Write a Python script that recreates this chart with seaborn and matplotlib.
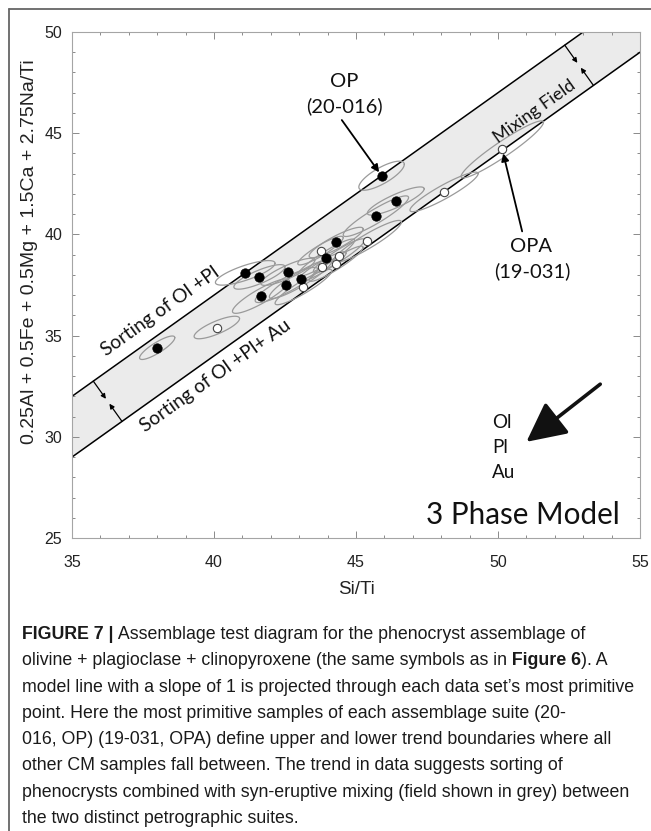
import numpy as np
import matplotlib
matplotlib.use("Agg")
import matplotlib.pyplot as plt
import seaborn as sns
from matplotlib import font_manager as fm
from matplotlib.lines import Line2D
from matplotlib.ticker import MultipleLocator

# ---------------- data ----------------
# OP-type samples (filled symbols)
op_x = [38.0, 41.1, 41.6, 41.65, 42.6, 42.55, 43.05, 43.95, 44.3, 45.7, 46.4, 45.9]
op_y = [34.4, 38.1, 37.9, 36.95, 38.15, 37.5, 37.8, 38.85, 39.6, 40.9, 41.65, 42.9]
op_ell_a = [0.62, 1.05, 0.9, 1.0, 0.95, 1.1, 1.1, 1.0, 0.95, 1.15, 1.0, 0.8]
op_ell_b = [0.30, 0.38, 0.35, 0.40, 0.35, 0.40, 0.40, 0.35, 0.35, 0.40, 0.35, 0.45]
op_ell_r = [0.80, 0.45, 0.55, 0.75, 0.60, 0.70, 0.80, 0.85, 0.70, 0.80, 0.60, 0.70]

# OPA-type samples (open symbols)
opa_x = [40.1, 43.15, 43.75, 43.8, 44.3, 44.4, 45.4, 48.1, 50.15]
opa_y = [35.4, 37.4, 39.2, 38.4, 38.55, 38.95, 39.65, 42.1, 44.2]
opa_ell_a = [0.8, 1.0, 0.8, 0.85, 0.95, 0.9, 1.2, 1.2, 1.45]
opa_ell_b = [0.34, 0.35, 0.30, 0.30, 0.32, 0.32, 0.40, 0.38, 0.45]
opa_ell_r = [0.55, 0.80, 0.80, 0.80, 0.85, 0.85, 0.80, 0.75, 0.92]

# model lines (slope 1) through the most primitive samples
model_slope = 1.0
upper_intercept = -3.0   # through OP (20-016)
lower_intercept = -6.0   # through OPA (19-031)

x_ticks = [35, 40, 45, 50, 55]
y_ticks = [25, 30, 35, 40, 45, 50]

x_label = "Si/Ti"
y_label = "0.25Al + 0.5Fe + 0.5Mg + 1.5Ca + 2.75Na/Ti"

caption_lines = [
    [("FIGURE 7 |", True), (" Assemblage test diagram for the phenocryst assemblage of", False)],
    [("olivine + plagioclase + clinopyroxene (the same symbols as in", False), (" Figure 6", True), ("). A", False)],
    [("model line with a slope of 1 is projected through each data set\u2019s most primitive", False)],
    [("point. Here the most primitive samples of each assemblage suite (20-", False)],
    [("016, OP) (19-031, OPA) define upper and lower trend boundaries where all", False)],
    [("other CM samples fall between. The trend in data suggests sorting of", False)],
    [("phenocrysts combined with syn-eruptive mixing (field shown in grey) between", False)],
    [("the two distinct petrographic suites.", False)],
]

# ---------------- style ----------------
sns.set_theme(style="white")
plt.rcParams['font.family'] = ['Liberation Sans', 'DejaVu Sans']
names = {f.name for f in fm.fontManager.ttflist}
ann_font = 'Lato' if 'Lato' in names else 'DejaVu Sans'
cap_font = 'Liberation Sans Narrow' if 'Liberation Sans Narrow' in names else 'Liberation Sans'

W, H = 651, 831
fig = plt.figure(figsize=(W / 100, H / 100), dpi=100)
fig.patch.set_facecolor('white')
L, R, T, B = 72, 640, 32, 538
ax = fig.add_axes([L / W, 1 - B / H, (R - L) / W, (B - T) / H])
ax.set_xlim(35, 55)
ax.set_ylim(25, 50)
ax.set_facecolor('white')
renderer = fig.canvas.get_renderer()

# band and model lines
xs = np.array([35.0, 55.0])
up = model_slope * xs + upper_intercept
lo = model_slope * xs + lower_intercept
ax.fill_between(xs, lo, up, color='#ebebeb', lw=0, zorder=0)
sns.lineplot(x=xs, y=up, color='black', lw=1.1, ax=ax, zorder=1)
sns.lineplot(x=xs, y=lo, color='black', lw=1.1, ax=ax, zorder=1)

# error ellipses
t = np.linspace(0, 2 * np.pi, 120)
for cx, cy, a, b, r in list(zip(op_x, op_y, op_ell_a, op_ell_b, op_ell_r)) + \
        list(zip(opa_x, opa_y, opa_ell_a, opa_ell_b, opa_ell_r)):
    ax.plot(cx + a * np.cos(t), cy + r * a * np.cos(t) + b * np.sin(t),
            color='#9a9a9a', lw=0.9, zorder=2)

# samples
sns.scatterplot(x=opa_x, y=opa_y, s=36, color='white', edgecolor='#444444',
                linewidth=0.8, ax=ax, zorder=3)
sns.scatterplot(x=op_x, y=op_y, s=46, color='black', edgecolor='black',
                linewidth=0.5, ax=ax, zorder=4)

# axes styling
ax.set_xticks(x_ticks)
ax.set_yticks(y_ticks)
ax.xaxis.set_minor_locator(MultipleLocator(1))
ax.yaxis.set_minor_locator(MultipleLocator(1))
ax.tick_params(which='both', direction='in', top=True, right=True, bottom=True,
               left=True, color='#8a8a8a', width=0.7)
ax.tick_params(which='major', length=5)
ax.tick_params(which='minor', length=2.5)
ax.tick_params(axis='x', which='major', pad=12, labelsize=11.5, labelcolor='#222222')
ax.tick_params(axis='y', which='major', pad=7, labelsize=11.5, labelcolor='#222222')
for s in ax.spines.values():
    s.set_color('#a5a5a5')
    s.set_linewidth(0.8)
ax.set_xlabel('')
ax.set_ylabel('')
fig.text((L + R) / 2 / W, 1 - 590 / H, x_label, ha='center', va='center',
         fontsize=13.5, color='#222222')
fig.text(30 / W, 1 - 252 / H, y_label, ha='center', va='center', rotation=90,
         fontsize=14.0, color='#222222')

# line angle on screen
def disp(x, y):
    return ax.transData.transform((x, y))

p0 = disp(40, 40 + upper_intercept)
p1 = disp(50, 50 + upper_intercept)
dvec = (p1 - p0) / np.linalg.norm(p1 - p0)
ang = np.degrees(np.arctan2(dvec[1], dvec[0]))
inv = ax.transData.inverted()

def fitted(x, y, s, target_px, rot=0.0, **kw):
    tt = ax.text(x, y, s, fontsize=12, family=ann_font, **kw)
    w = tt.get_window_extent(renderer).width
    tt.set_fontsize(12 * target_px / w)
    tt.set_rotation(rot)
    tt.set_rotation_mode('anchor')
    return tt

fitted(38.1, 36.2, "Sorting of Ol +Pl", 140, rot=ang, ha='center', va='center', color='#111111')
fitted(40.05, 33.0, "Sorting of Ol +Pl+ Au", 180, rot=ang, ha='center', va='center', color='#111111')
fitted(51.3, 46.05, "Mixing Field", 96, rot=ang, ha='center', va='center', color='#111111')

# mixing-field double arrows
def mixing_arrows(xu):
    p = disp(xu, xu + upper_intercept)
    n = np.array([dvec[1], -dvec[0]])
    gap = disp(xu, xu + upper_intercept)[1] - disp(xu, xu + lower_intercept)[1]
    D = gap * dvec[0]
    q = p + D * n
    props = dict(arrowstyle='-|>', color='black', lw=0.9, mutation_scale=7,
                 shrinkA=0, shrinkB=0)
    ax.annotate('', xy=inv.transform(p + 0.44 * D * n), xytext=inv.transform(p),
                arrowprops=props, zorder=5)
    ax.annotate('', xy=inv.transform(q - 0.44 * D * n), xytext=inv.transform(q),
                arrowprops=props, zorder=5)

mixing_arrows(52.35)
mixing_arrows(35.75)

# sample labels
lab_fs = 14.5
ax.text(44.6, 47.55, "OP", family=ann_font, fontsize=lab_fs, ha='center', va='center', color='#111111')
ax.text(44.6, 46.35, "(20-016)", family=ann_font, fontsize=lab_fs, ha='center', va='center', color='#111111')
ax.annotate('', xy=(op_x[-1], op_y[-1]), xytext=(44.5, 45.65),
            arrowprops=dict(arrowstyle='-|>', color='black', lw=1.3, mutation_scale=11,
                            shrinkA=0, shrinkB=3), zorder=6)
ax.text(51.15, 39.4, "OPA", family=ann_font, fontsize=lab_fs, ha='center', va='center', color='#111111')
ax.text(51.2, 38.2, "(19-031)", family=ann_font, fontsize=lab_fs, ha='center', va='center', color='#111111')
ax.annotate('', xy=(opa_x[-1], opa_y[-1]), xytext=(50.85, 40.15),
            arrowprops=dict(arrowstyle='-|>', color='black', lw=1.3, mutation_scale=11,
                            shrinkA=0, shrinkB=3), zorder=6)

# assemblage vector
ax.annotate('', xy=(51.0, 29.75), xytext=(53.6, 32.6),
            arrowprops=dict(arrowstyle='-|>,head_length=1.1,head_width=0.55',
                            color='#111111', lw=2.6, mutation_scale=22,
                            shrinkA=0, shrinkB=0), zorder=6)
for lab, yb in zip(["Ol", "Pl", "Au"], [30.44, 29.2, 27.98]):
    ax.text(49.8, yb, lab, family=ann_font, fontsize=13.5, ha='left', va='baseline', color='#111111')
fitted(54.3, 25.7, "3 Phase Model", 193, ha='right', va='baseline', color='#111111')

# outer frame
fig.add_artist(Line2D([9 / W, 1.0], [1 - 9 / H, 1 - 9 / H], transform=fig.transFigure,
                      color='#666666', lw=1.3))
fig.add_artist(Line2D([9 / W, 9 / W], [0.0, 1 - 9 / H], transform=fig.transFigure,
                      color='#666666', lw=1.3))

# caption
probe = fig.text(0, 0, caption_lines[2][0][0], fontsize=12, family=cap_font)
cap_fs = 12 * 617 / probe.get_window_extent(renderer).width
probe.remove()
x0 = 22
base0 = 639
spacing = 26.3
for i, segs in enumerate(caption_lines):
    xb = x0
    yb = 1 - (base0 + i * spacing) / H
    for txt, bold in segs:
        tt = fig.text(xb / W, yb, txt, fontsize=cap_fs, family=cap_font,
                      weight='bold' if bold else 'normal', ha='left', va='baseline',
                      color='#1a1a1a')
        xb += tt.get_window_extent(renderer).width

fig.savefig("out.png", dpi=100, facecolor='white')
